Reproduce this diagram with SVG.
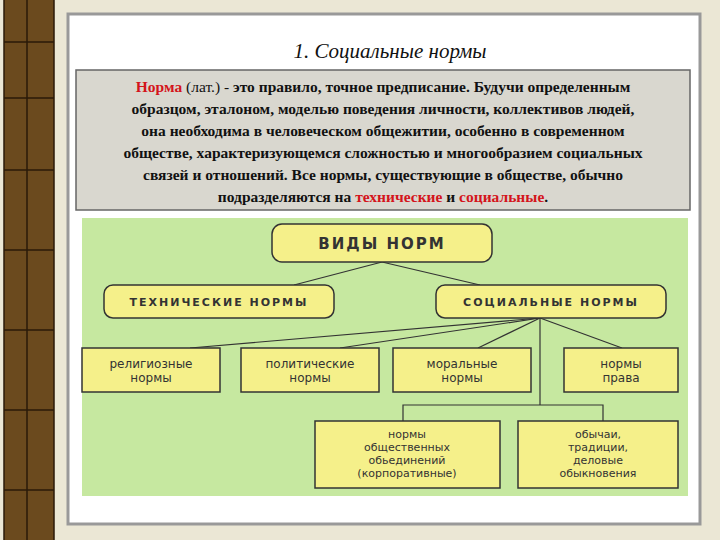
<svg xmlns="http://www.w3.org/2000/svg" width="720" height="540" viewBox="0 0 720 540">
<style>
.r{fill:#f5f08a;stroke:#333;stroke-width:1.5}
.t{font-family:"DejaVu Sans",sans-serif;font-size:12px;fill:#333;text-anchor:middle}
.s{font-family:"DejaVu Sans",sans-serif;font-size:11px;fill:#333;text-anchor:middle}
.h{font-family:"DejaVu Sans",sans-serif;font-weight:bold;fill:#333;text-anchor:middle;letter-spacing:2px}
.b{font-family:"Liberation Serif",serif;font-weight:bold;font-size:15.5px;fill:#111;text-anchor:middle}
.red{fill:#d4141b}
.c line,.c polyline{stroke:#333;stroke-width:1.2;fill:none}
</style>
<rect width="720" height="540" fill="#ebe7d5"/>
<rect x="4" y="0" width="50" height="540" fill="#6b4a1e"/>
<g stroke="#2a1a08" stroke-width="1.5"><line x1="4" y1="0" x2="4" y2="540"/><line x1="27" y1="0" x2="27" y2="540"/><line x1="54" y1="0" x2="54" y2="540"/>
<line x1="4" y1="42" x2="54" y2="42"/><line x1="4" y1="98" x2="54" y2="98"/><line x1="4" y1="170" x2="54" y2="170"/><line x1="4" y1="250" x2="54" y2="250"/><line x1="4" y1="330" x2="54" y2="330"/><line x1="4" y1="410" x2="54" y2="410"/><line x1="4" y1="490" x2="54" y2="490"/></g>
<rect x="68" y="14" width="632" height="510" fill="#fff" stroke="#999" stroke-width="3"/>
<text x="390" y="58" font-family="Liberation Serif,serif" font-style="italic" font-size="21" text-anchor="middle" fill="#111">1. Социальные нормы</text>
<rect x="76" y="70" width="614" height="140" fill="#d9d7cf" stroke="#666" stroke-width="1.5"/>
<text class="b" x="383" y="92"><tspan class="red">Норма</tspan><tspan font-weight="normal"> (лат.) - </tspan>это правило, точное предписание. Будучи определенным</text>
<text class="b" x="383" y="114">образцом, эталоном, моделью поведения личности, коллективов людей,</text>
<text class="b" x="383" y="136">она необходима в человеческом общежитии, особенно в современном</text>
<text class="b" x="383" y="158">обществе, характеризующемся сложностью и многообразием социальных</text>
<text class="b" x="383" y="180">связей и отношений. Все нормы, существующие в обществе, обычно</text>
<text class="b" x="383" y="202">подразделяются на <tspan class="red">технические</tspan> и <tspan class="red">социальные</tspan>.</text>
<rect x="82" y="218" width="606" height="278" fill="#c6e8a0"/>
<g class="c">
<line x1="382" y1="262" x2="294" y2="285"/><line x1="382" y1="262" x2="480" y2="285"/>
<line x1="540" y1="318" x2="190" y2="348"/><line x1="540" y1="318" x2="340" y2="348"/>
<line x1="540" y1="318" x2="478" y2="348"/><line x1="540" y1="318" x2="622" y2="348"/>
<line x1="540" y1="318" x2="540" y2="405" stroke-width="2"/>
<polyline points="403,421 403,405 603,405 603,421" stroke-width="1.8"/>
</g>
<g id="vidy"><rect class="r" x="272" y="224" width="220" height="38" rx="10"/><text class="h" x="382" y="249" font-size="15">ВИДЫ НОРМ</text></g>
<g id="tech"><rect class="r" x="104" y="285" width="230" height="33" rx="9"/><text class="h" x="219" y="306" font-size="11">ТЕХНИЧЕСКИЕ НОРМЫ</text></g>
<g id="soc"><rect class="r" x="436" y="285" width="230" height="33" rx="9"/><text class="h" x="551" y="306" font-size="11">СОЦИАЛЬНЫЕ НОРМЫ</text></g>
<g id="rel"><rect class="r" x="82" y="348" width="138" height="44"/><text class="t" x="151" y="368">религиозные</text><text class="t" x="151" y="382">нормы</text></g>
<g id="pol"><rect class="r" x="241" y="348" width="138" height="44"/><text class="t" x="310" y="368">политические</text><text class="t" x="310" y="382">нормы</text></g>
<g id="mor"><rect class="r" x="393" y="348" width="138" height="44"/><text class="t" x="462" y="368">моральные</text><text class="t" x="462" y="382">нормы</text></g>
<g id="prav"><rect class="r" x="564" y="348" width="114" height="44"/><text class="t" x="621" y="368">нормы</text><text class="t" x="621" y="382">права</text></g>
<g id="obsh"><rect class="r" x="315" y="421" width="185" height="67"/><text class="s" x="407" y="438">нормы</text><text class="s" x="407" y="451">общественных</text><text class="s" x="407" y="464">обьединений</text><text class="s" x="407" y="477">(корпоративные)</text></g>
<g id="obych"><rect class="r" x="518" y="421" width="160" height="67"/><text class="s" x="598" y="438">обычаи,</text><text class="s" x="598" y="451">традиции,</text><text class="s" x="598" y="464">деловые</text><text class="s" x="598" y="477">обыкновения</text></g>
</svg>
